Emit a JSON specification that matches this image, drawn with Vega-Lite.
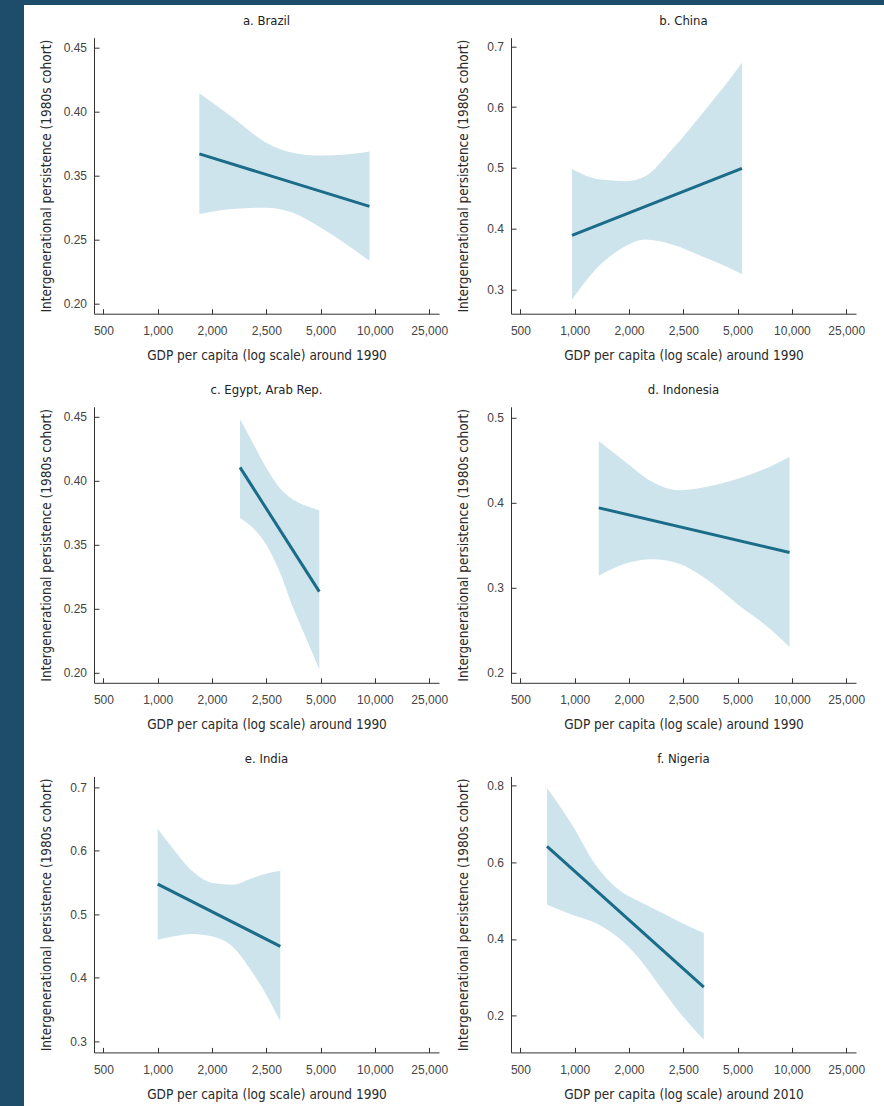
{
  "$schema": "https://vega.github.io/schema/vega-lite/v6.json",
  "background": "white",
  "padding": 0,
  "autosize": {"type": "pad"},
  "spacing": 0,
  "datasets": {
    "ci": [
      {"country": "Brazil", "gdp": 1767, "lower": 0.290, "upper": 0.4145},
      {"country": "Brazil", "gdp": 2190, "lower": 0.298, "upper": 0.3955},
      {"country": "Brazil", "gdp": 2495, "lower": 0.300, "upper": 0.376},
      {"country": "Brazil", "gdp": 3700, "lower": 0.2925, "upper": 0.368},
      {"country": "Brazil", "gdp": 5000, "lower": 0.269, "upper": 0.3657},
      {"country": "Brazil", "gdp": 7350, "lower": 0.2465, "upper": 0.3665},
      {"country": "Brazil", "gdp": 9500, "lower": 0.2335, "upper": 0.369},
      {"country": "China", "gdp": 975, "lower": 0.283, "upper": 0.498},
      {"country": "China", "gdp": 1443, "lower": 0.338, "upper": 0.481},
      {"country": "China", "gdp": 1935, "lower": 0.371, "upper": 0.478},
      {"country": "China", "gdp": 2150, "lower": 0.382, "upper": 0.486},
      {"country": "China", "gdp": 2395, "lower": 0.374, "upper": 0.530},
      {"country": "China", "gdp": 3525, "lower": 0.352, "upper": 0.596},
      {"country": "China", "gdp": 4750, "lower": 0.333, "upper": 0.651},
      {"country": "China", "gdp": 5400, "lower": 0.325, "upper": 0.673},
      {"country": "Egypt", "gdp": 2258, "lower": 0.371, "upper": 0.448},
      {"country": "Egypt", "gdp": 2374, "lower": 0.3635, "upper": 0.430},
      {"country": "Egypt", "gdp": 2497, "lower": 0.3505, "upper": 0.4105},
      {"country": "Egypt", "gdp": 3100, "lower": 0.309, "upper": 0.3948},
      {"country": "Egypt", "gdp": 3710, "lower": 0.2535, "upper": 0.3856},
      {"country": "Egypt", "gdp": 4325, "lower": 0.2274, "upper": 0.3805},
      {"country": "Egypt", "gdp": 4940, "lower": 0.2027, "upper": 0.377},
      {"country": "Indonesia", "gdp": 1443, "lower": 0.314, "upper": 0.4726},
      {"country": "Indonesia", "gdp": 1935, "lower": 0.3284, "upper": 0.448},
      {"country": "Indonesia", "gdp": 2212, "lower": 0.3336, "upper": 0.4246},
      {"country": "Indonesia", "gdp": 2458, "lower": 0.3284, "upper": 0.4148},
      {"country": "Indonesia", "gdp": 3525, "lower": 0.3107, "upper": 0.4187},
      {"country": "Indonesia", "gdp": 5100, "lower": 0.2794, "upper": 0.4285},
      {"country": "Indonesia", "gdp": 7575, "lower": 0.2558, "upper": 0.4403},
      {"country": "Indonesia", "gdp": 9785, "lower": 0.2303, "upper": 0.454},
      {"country": "India", "gdp": 1000, "lower": 0.460, "upper": 0.6346},
      {"country": "India", "gdp": 1276, "lower": 0.465, "upper": 0.604},
      {"country": "India", "gdp": 1644, "lower": 0.469, "upper": 0.5675},
      {"country": "India", "gdp": 2006, "lower": 0.465, "upper": 0.549},
      {"country": "India", "gdp": 2190, "lower": 0.449, "upper": 0.5465},
      {"country": "India", "gdp": 2374, "lower": 0.408, "upper": 0.557},
      {"country": "India", "gdp": 2625, "lower": 0.3657, "upper": 0.5648},
      {"country": "India", "gdp": 3145, "lower": 0.3316, "upper": 0.5685},
      {"country": "Nigeria", "gdp": 745, "lower": 0.4893, "upper": 0.793},
      {"country": "Nigeria", "gdp": 975, "lower": 0.4633, "upper": 0.6977},
      {"country": "Nigeria", "gdp": 1382, "lower": 0.4414, "upper": 0.5935},
      {"country": "Nigeria", "gdp": 1811, "lower": 0.4023, "upper": 0.5284},
      {"country": "Nigeria", "gdp": 2090, "lower": 0.3503, "upper": 0.498},
      {"country": "Nigeria", "gdp": 2274, "lower": 0.281, "upper": 0.472},
      {"country": "Nigeria", "gdp": 2458, "lower": 0.2115, "upper": 0.4458},
      {"country": "Nigeria", "gdp": 3445, "lower": 0.1377, "upper": 0.4154}
    ],
    "fit": [
      {"country": "Brazil", "gdp": 1767, "persistence": 0.367},
      {"country": "Brazil", "gdp": 9500, "persistence": 0.302},
      {"country": "China", "gdp": 975, "persistence": 0.389},
      {"country": "China", "gdp": 5400, "persistence": 0.499},
      {"country": "Egypt", "gdp": 2258, "persistence": 0.4105},
      {"country": "Egypt", "gdp": 4940, "persistence": 0.2768},
      {"country": "Indonesia", "gdp": 1443, "persistence": 0.394},
      {"country": "Indonesia", "gdp": 9785, "persistence": 0.3414},
      {"country": "India", "gdp": 1000, "persistence": 0.5475},
      {"country": "India", "gdp": 3145, "persistence": 0.4495},
      {"country": "Nigeria", "gdp": 745, "persistence": 0.6411},
      {"country": "Nigeria", "gdp": 3445, "persistence": 0.2748}
    ]
  },
  "vconcat": [
    {"width": 884, "height": 5, "data": {"values": []}, "mark": "point", "view": {"fill": "#1e4d6b", "stroke": null}},
    {"spacing": 14, "hconcat": [
      {"width": 24, "height": 1101, "data": {"values": []}, "mark": "point", "view": {"fill": "#1e4d6b", "stroke": null}},
      {"spacing": 19, "hconcat": [
        {"spacing": 7.7, "vconcat": [
          {"width": 1, "height": 1, "data": {"values": []}, "mark": "point"},
          {"spacing": 20.1, "vconcat": [
            {"spacing": 7, "hconcat": [
              {"width": 345, "height": 276, "title": "a. Brazil", "layer": [
                {"data": {"name": "ci"}, "transform": [{"filter": "datum.country === 'Brazil'"}],
                 "mark": {"type": "area", "color": "#cde4ec", "interpolate": "monotone"},
                 "encoding": {
                   "x": {"field": "gdp", "type": "quantitative", "title": "GDP per capita (log scale) around 1990", "scale": {"domain": [413, 500, 1000, 2000, 2500, 5000, 10000, 25000, 27700], "range": [0, 9.4, 63.7, 118, 172.3, 226.6, 280.9, 335.2, 345], "nice": false, "zero": false}, "axis": {"values": [500, 1000, 2000, 2500, 5000, 10000, 25000], "format": ",.0f"}},
                   "y": {"field": "lower", "type": "quantitative", "title": "Intergenerational persistence (1980s cohort)", "scale": {"domain": [0.1922, 0.20, 0.25, 0.35, 0.40, 0.45, 0.4578], "range": [276, 266, 202, 138, 74, 10, 0], "nice": false, "zero": false}, "axis": {"values": [0.20, 0.25, 0.35, 0.40, 0.45], "format": ".2f"}},
                   "y2": {"field": "upper"}
                 }},
                {"data": {"name": "fit"}, "transform": [{"filter": "datum.country === 'Brazil'"}],
                 "mark": {"type": "line", "color": "#1a6c88", "strokeWidth": 3},
                 "encoding": {
                   "x": {"field": "gdp", "type": "quantitative", "title": "GDP per capita (log scale) around 1990"},
                   "y": {"field": "persistence", "type": "quantitative", "title": "Intergenerational persistence (1980s cohort)"}
                 }}
              ]},
              {"width": 345, "height": 276, "title": "b. China", "layer": [
                {"data": {"name": "ci"}, "transform": [{"filter": "datum.country === 'China'"}],
                 "mark": {"type": "area", "color": "#cde4ec", "interpolate": "monotone"},
                 "encoding": {
                   "x": {"field": "gdp", "type": "quantitative", "title": "GDP per capita (log scale) around 1990", "scale": {"domain": [413, 500, 1000, 2000, 2500, 5000, 10000, 25000, 27700], "range": [0, 9.4, 63.7, 118, 172.3, 226.6, 280.9, 335.2, 345], "nice": false, "zero": false}, "axis": {"values": [500, 1000, 2000, 2500, 5000, 10000, 25000], "format": ",.0f"}},
                   "y": {"field": "lower", "type": "quantitative", "title": "Intergenerational persistence (1980s cohort)", "scale": {"domain": [0.26, 0.714], "nice": false, "zero": false}, "axis": {"values": [0.3, 0.4, 0.5, 0.6, 0.7], "format": ".1f"}},
                   "y2": {"field": "upper"}
                 }},
                {"data": {"name": "fit"}, "transform": [{"filter": "datum.country === 'China'"}],
                 "mark": {"type": "line", "color": "#1a6c88", "strokeWidth": 3},
                 "encoding": {
                   "x": {"field": "gdp", "type": "quantitative", "title": "GDP per capita (log scale) around 1990"},
                   "y": {"field": "persistence", "type": "quantitative", "title": "Intergenerational persistence (1980s cohort)"}
                 }}
              ]}
            ]},
            {"spacing": 20.6, "vconcat": [
              {"spacing": 7, "hconcat": [
                {"width": 345, "height": 276, "title": "c. Egypt, Arab Rep.", "layer": [
                  {"data": {"name": "ci"}, "transform": [{"filter": "datum.country === 'Egypt'"}],
                   "mark": {"type": "area", "color": "#cde4ec", "interpolate": "monotone"},
                   "encoding": {
                     "x": {"field": "gdp", "type": "quantitative", "title": "GDP per capita (log scale) around 1990", "scale": {"domain": [413, 500, 1000, 2000, 2500, 5000, 10000, 25000, 27700], "range": [0, 9.4, 63.7, 118, 172.3, 226.6, 280.9, 335.2, 345], "nice": false, "zero": false}, "axis": {"values": [500, 1000, 2000, 2500, 5000, 10000, 25000], "format": ",.0f"}},
                     "y": {"field": "lower", "type": "quantitative", "title": "Intergenerational persistence (1980s cohort)", "scale": {"domain": [0.1922, 0.20, 0.25, 0.35, 0.40, 0.45, 0.4578], "range": [276, 266, 202, 138, 74, 10, 0], "nice": false, "zero": false}, "axis": {"values": [0.20, 0.25, 0.35, 0.40, 0.45], "format": ".2f"}},
                     "y2": {"field": "upper"}
                   }},
                  {"data": {"name": "fit"}, "transform": [{"filter": "datum.country === 'Egypt'"}],
                   "mark": {"type": "line", "color": "#1a6c88", "strokeWidth": 3},
                   "encoding": {
                     "x": {"field": "gdp", "type": "quantitative", "title": "GDP per capita (log scale) around 1990"},
                     "y": {"field": "persistence", "type": "quantitative", "title": "Intergenerational persistence (1980s cohort)"}
                   }}
                ]},
                {"width": 345, "height": 276, "title": "d. Indonesia", "layer": [
                  {"data": {"name": "ci"}, "transform": [{"filter": "datum.country === 'Indonesia'"}],
                   "mark": {"type": "area", "color": "#cde4ec", "interpolate": "monotone"},
                   "encoding": {
                     "x": {"field": "gdp", "type": "quantitative", "title": "GDP per capita (log scale) around 1990", "scale": {"domain": [413, 500, 1000, 2000, 2500, 5000, 10000, 25000, 27700], "range": [0, 9.4, 63.7, 118, 172.3, 226.6, 280.9, 335.2, 345], "nice": false, "zero": false}, "axis": {"values": [500, 1000, 2000, 2500, 5000, 10000, 25000], "format": ",.0f"}},
                     "y": {"field": "lower", "type": "quantitative", "title": "Intergenerational persistence (1980s cohort)", "scale": {"domain": [0.188, 0.513], "nice": false, "zero": false}, "axis": {"values": [0.2, 0.3, 0.4, 0.5], "format": ".1f"}},
                     "y2": {"field": "upper"}
                   }},
                  {"data": {"name": "fit"}, "transform": [{"filter": "datum.country === 'Indonesia'"}],
                   "mark": {"type": "line", "color": "#1a6c88", "strokeWidth": 3},
                   "encoding": {
                     "x": {"field": "gdp", "type": "quantitative", "title": "GDP per capita (log scale) around 1990"},
                     "y": {"field": "persistence", "type": "quantitative", "title": "Intergenerational persistence (1980s cohort)"}
                   }}
                ]}
              ]},
              {"spacing": 7, "hconcat": [
                {"width": 345, "height": 276, "title": "e. India", "layer": [
                  {"data": {"name": "ci"}, "transform": [{"filter": "datum.country === 'India'"}],
                   "mark": {"type": "area", "color": "#cde4ec", "interpolate": "monotone"},
                   "encoding": {
                     "x": {"field": "gdp", "type": "quantitative", "title": "GDP per capita (log scale) around 1990", "scale": {"domain": [413, 500, 1000, 2000, 2500, 5000, 10000, 25000, 27700], "range": [0, 9.4, 63.7, 118, 172.3, 226.6, 280.9, 335.2, 345], "nice": false, "zero": false}, "axis": {"values": [500, 1000, 2000, 2500, 5000, 10000, 25000], "format": ",.0f"}},
                     "y": {"field": "lower", "type": "quantitative", "title": "Intergenerational persistence (1980s cohort)", "scale": {"domain": [0.2828, 0.7168], "nice": false, "zero": false}, "axis": {"values": [0.3, 0.4, 0.5, 0.6, 0.7], "format": ".1f"}},
                     "y2": {"field": "upper"}
                   }},
                  {"data": {"name": "fit"}, "transform": [{"filter": "datum.country === 'India'"}],
                   "mark": {"type": "line", "color": "#1a6c88", "strokeWidth": 3},
                   "encoding": {
                     "x": {"field": "gdp", "type": "quantitative", "title": "GDP per capita (log scale) around 1990"},
                     "y": {"field": "persistence", "type": "quantitative", "title": "Intergenerational persistence (1980s cohort)"}
                   }}
                ]},
                {"width": 345, "height": 276, "title": "f. Nigeria", "layer": [
                  {"data": {"name": "ci"}, "transform": [{"filter": "datum.country === 'Nigeria'"}],
                   "mark": {"type": "area", "color": "#cde4ec", "interpolate": "monotone"},
                   "encoding": {
                     "x": {"field": "gdp", "type": "quantitative", "title": "GDP per capita (log scale) around 2010", "scale": {"domain": [413, 500, 1000, 2000, 2500, 5000, 10000, 25000, 27700], "range": [0, 9.4, 63.7, 118, 172.3, 226.6, 280.9, 335.2, 345], "nice": false, "zero": false}, "axis": {"values": [500, 1000, 2000, 2500, 5000, 10000, 25000], "format": ",.0f"}},
                     "y": {"field": "lower", "type": "quantitative", "title": "Intergenerational persistence (1980s cohort)", "scale": {"domain": [0.1047, 0.8234], "nice": false, "zero": false}, "axis": {"values": [0.2, 0.4, 0.6, 0.8], "format": ".1f"}},
                     "y2": {"field": "upper"}
                   }},
                  {"data": {"name": "fit"}, "transform": [{"filter": "datum.country === 'Nigeria'"}],
                   "mark": {"type": "line", "color": "#1a6c88", "strokeWidth": 3},
                   "encoding": {
                     "x": {"field": "gdp", "type": "quantitative", "title": "GDP per capita (log scale) around 2010"},
                     "y": {"field": "persistence", "type": "quantitative", "title": "Intergenerational persistence (1980s cohort)"}
                   }}
                ]}
              ]}
            ]}
          ]}
        ]},
        {"width": 4, "height": 1101, "data": {"values": []}, "mark": "point", "view": {"fill": "#1e4d6b", "stroke": null}}
      ]}
    ]}
  ],
  "config": {
    "view": {"stroke": null},
    "font": "Liberation Sans",
    "axis": {"grid": false, "domainColor": "#333333", "domainWidth": 1, "tickColor": "#333333", "tickSize": -5, "tickWidth": 1, "labelColor": "#444444", "labelFontSize": 12, "labelFont": "Liberation Sans", "titleFont": "DejaVu Sans Condensed, sans-serif", "titleFontSize": 13.5, "titleFontWeight": "normal", "titleColor": "#2a2a2a"},
    "axisX": {"labelPadding": 17, "titlePadding": 12, "labelFlush": false},
    "axisY": {"labelPadding": 12.5, "titlePadding": 6, "minExtent": 35, "maxExtent": 35, "titleFontSize": 13.5},
    "title": {"font": "DejaVu Sans Condensed, sans-serif", "fontSize": 13, "fontWeight": "normal", "color": "#222222", "offset": 10.1, "anchor": "middle"}
  }
}
